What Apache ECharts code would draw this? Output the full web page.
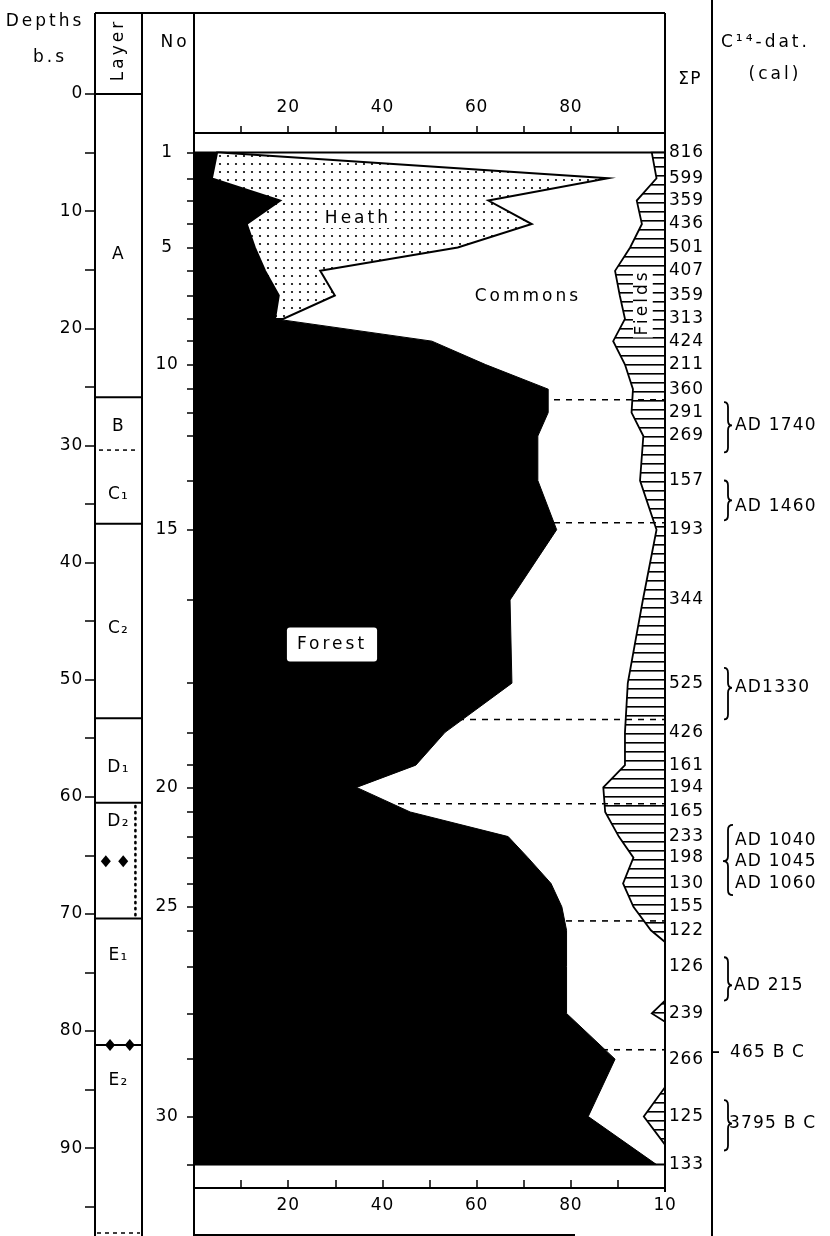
<!DOCTYPE html>
<html><head><meta charset="utf-8">
<script src="https://cdn.jsdelivr.net/npm/echarts@6/dist/echarts.min.js"></script>
<style>html,body{margin:0;padding:0;background:#fff}#c{width:830px;height:1236px}</style>
</head><body><div id="c"></div>
<script>
// ---------- DATA ----------
// depth (cm below surface) of each pollen sample, samples 1..31
const sampleDepth = [5.0,7.2,9.1,11.1,13.1,15.1,17.2,19.2,21.1,23.1,25.2,27.2,29.2,33.0,37.2,43.2,50.3,54.5,57.3,59.2,61.3,63.4,65.2,67.4,69.4,71.4,74.5,78.5,82.4,87.3,91.4];
const sampleNo = [1,2,3,4,5,6,7,8,9,10,11,12,13,14,15,16,17,18,19,20,21,22,23,24,25,26,27,28,29,30,31];
const labelledSamples = [1,5,10,15,20,25,30];
// percentages
const forest = [4.9,3.8,18.3,11.2,12.9,15.1,18.0,17.2,50.5,61.9,75.2,75.2,73.0,73.0,77.0,67.1,67.5,53.3,47.1,34.5,45.9,66.7,70.9,75.8,78.1,79.1,79.1,79.1,89.4,83.7,98.2];
const heath  = [0.6,84.1,44.2,60.5,43.1,11.7,11.9,1.7,0,0,0,0,0,0,0,0,0,0,0,0,0,0,0,0,0,0,0,0,0,0,0];
const fieldsDepth = [5.0,7.2,9.1,11.1,13.1,15.1,17.2,19.2,21.1,23.1,25.2,27.2,29.2,33.0,37.2,43.2,50.3,54.5,57.3,59.2,61.3,63.4,65.2,67.4,69.4,71.4,72.4,74.5,77.4,78.5,79.2,82.4,84.8,87.3,89.7,91.4];
const fieldsVal   = [2.8,1.8,6.0,4.9,7.4,10.6,9.6,8.5,11.0,8.5,6.8,7.1,4.6,5.3,1.8,4.7,7.9,8.5,8.5,13.1,12.7,9.8,6.7,8.9,6.7,3.0,0,0,0,2.8,0,0,0,4.5,0,0];
const sumP = [816,599,359,436,501,407,359,313,424,211,360,291,269,157,193,344,525,426,161,194,165,233,198,130,155,122,126,239,266,125,133];
const dashDepth = [26.1,36.6,53.4,60.6,70.6,81.6];
// depth axis
const depthTicks = [0,5,10,15,20,25,30,35,40,45,50,55,60,65,70,75,80,85,90,95];
const depthLabels = [0,10,20,30,40,50,60,70,80,90];
const pctTicks = [10,20,30,40,50,60,70,80,90];
const pctLabels = [20,40,60,80];
const pctLabelsBottom = [20,40,60,80,100];
// layers
const layerBounds = [25.9,30.4,36.7,53.3,60.5,70.4,81.2];
const layerDashed = [false,true,false,false,false,false,false];
const layerNames = ['A','B','C₁','C₂','D₁','D₂','E₁','E₂'];
const layerLabelDepth = [13.7,28.4,34.2,45.6,57.5,62.1,73.6,84.2];
const diamondX = [0.23,0.6,0.32,0.74];
const diamondDepth = [65.5,65.5,81.2,81.2];
const dottedDepth = [60.8,70.2];
// annotations in the main panel
const annoText = ['Heath','Commons','Forest','Fields'];
const annoX = [34.8,70.9,29.3,95.3];
const annoDepth = [10.6,17.3,47.0,17.8];
// C14 dates
const c14Text = ['AD 1740','AD 1460','AD1330','AD 1040','AD 1045','AD 1060','AD 215','465 B C','3795 B C'];
const c14Depth = [28.3,35.2,50.7,63.7,65.5,67.4,76.1,81.8,87.9];
const c14X = [23,23,23,23,23,23,22,18,17];
const braceTop = [26.3,33.0,49.0,62.4,73.7,85.9];
const braceBottom = [30.6,36.4,53.4,68.4,77.4,90.2];
const braceTip = [28.3,34.7,50.7,65.5,76.1,87.9];
const braceDir = ['}','}','}','{','}','}'];
const c14TickDepth = [81.8];

// ---------- lettering: wide-spaced stencil look ----------
(function(){
  const P = window.CanvasRenderingContext2D && CanvasRenderingContext2D.prototype;
  if (!P || !('letterSpacing' in P)) return;
  const sp = t => /[a-z]/.test(t) ? '3px' : (/[A-Z]/.test(t) ? '1.2px' : '0.8px');
  const f = P.fillText, m = P.measureText;
  P.fillText = function(t){ this.letterSpacing = sp(String(t)); return f.apply(this, arguments); };
  P.measureText = function(t){ this.letterSpacing = sp(String(t)); return m.apply(this, arguments); };
})();

// ---------- CHART ----------
const FONT = 'DejaVu Sans';
const BLACK = '#000';
const Y_MAX = 97.5;
const FS = 17;

function makeDots(){const c=document.createElement('canvas');c.width=8;c.height=8;const g=c.getContext('2d');g.fillStyle='#fff';g.fillRect(0,0,8,8);g.fillStyle='#000';g.beginPath();g.arc(4,4,1.1,0,Math.PI*2);g.fill();return c;}
function makeHatch(){const c=document.createElement('canvas');c.width=4;c.height=9;const g=c.getContext('2d');g.fillStyle='#fff';g.fillRect(0,0,4,9);g.fillStyle='#000';g.fillRect(0,4,4,1.6);return c;}
const dots = makeDots(), hatch = makeHatch();

const chart = echarts.init(document.getElementById('c'), null, {renderer:'canvas', width:830, height:1236});

const yBase = {type:'value', min:0, max:Y_MAX, inverse:true, splitLine:{show:false}, axisLine:{show:false}};
const lbl = {color:BLACK, fontFamily:FONT, fontSize:FS};
const slbl = Object.assign({opacity:1}, lbl);
const clear = {color:'rgba(0,0,0,0)', opacity:1};
const nLast = sampleDepth.length-1;

function txt(x,y,text,align,extra){return Object.assign({type:'text',x:x,y:y,z:50,style:{text:text,fill:BLACK,font:FS+'px "'+FONT+'"',align:align||'center',textAlign:align||'center',verticalAlign:'middle',textVerticalAlign:'middle'}},extra||{});}
function ln(x1,y1,x2,y2,w,dash){return {type:'line',z:40,shape:{x1:x1,y1:y1,x2:x2,y2:y2},style:{stroke:BLACK,lineWidth:w||2,lineDash:dash||null}};}

const option = {
  animation:false,
  backgroundColor:'#fff',
  textStyle:{fontFamily:FONT,color:BLACK},
  grid:[
    {left:95, width:47, top:94, bottom:0, outerBoundsMode:'none'},
    {left:194, width:471, top:94, bottom:0, outerBoundsMode:'none'},
    {left:712, width:118, top:94, bottom:0, outerBoundsMode:'none'}
  ],
  xAxis:[
    {type:'value', gridIndex:0, min:0, max:1, show:false},
    {type:'value', gridIndex:1, position:'top', offset:-39, min:0, max:100,
      axisLine:{show:true, onZero:false, lineStyle:{color:BLACK,width:2}},
      axisTick:{show:true, customValues:pctTicks, length:7, lineStyle:{color:BLACK,width:1.5}},
      axisLabel:Object.assign({customValues:pctLabels, margin:17}, lbl), splitLine:{show:false}},
    {type:'value', gridIndex:1, position:'bottom', offset:-48, min:0, max:100,
      axisLine:{show:true, onZero:false, lineStyle:{color:BLACK,width:2}},
      axisTick:{show:true, inside:true, customValues:pctTicks, length:8, lineStyle:{color:BLACK,width:1.5}},
      axisLabel:Object.assign({customValues:pctLabelsBottom, margin:9, formatter:v=>v===100?'10':String(v)}, lbl), splitLine:{show:false}},
    {type:'value', gridIndex:2, min:0, max:118, show:false}
  ],
  yAxis:[
    Object.assign({}, yBase, {gridIndex:0, position:'left',
      axisTick:{show:true, customValues:depthTicks, length:10, lineStyle:{color:BLACK,width:1.5}},
      axisLabel:Object.assign({show:true, customValues:depthLabels, margin:12}, lbl)}),
    Object.assign({}, yBase, {gridIndex:1, position:'left',
      axisTick:{show:true, customValues:sampleDepth, length:7, lineStyle:{color:BLACK,width:1.5}},
      axisLabel:Object.assign({show:true, customValues:labelledSamples.map(n=>sampleDepth[n-1]), margin:27, align:'center',
        formatter:v=>{const i=sampleDepth.findIndex(d=>Math.abs(d-v)<1e-6);return i>=0?String(sampleNo[i]):'';}}, lbl)}),
    Object.assign({}, yBase, {gridIndex:2, show:false})
  ],
  series:[
    {type:'custom', name:'Commons', xAxisIndex:1, yAxisIndex:1, z:1, data:[[0,0]],
      renderItem:(p,api)=>({type:'polygon', shape:{points:[api.coord([0,sampleDepth[0]]),api.coord([100,sampleDepth[0]]),api.coord([100,sampleDepth[nLast]]),api.coord([0,sampleDepth[nLast]])]},
        style:{fill:'#fff',stroke:BLACK,lineWidth:2}})},
    {type:'custom', name:'Forest', xAxisIndex:1, yAxisIndex:1, z:2, data:[[0,0]],
      renderItem:(p,api)=>{const pts=[api.coord([0,sampleDepth[0]])];forest.forEach((v,i)=>pts.push(api.coord([v,sampleDepth[i]])));pts.push(api.coord([0,sampleDepth[nLast]]));
        return {type:'polygon',shape:{points:pts},style:{fill:'#000',stroke:'#000',lineWidth:1}};}},
    {type:'custom', name:'Heath', xAxisIndex:1, yAxisIndex:1, z:3, data:[[0,0]],
      renderItem:(p,api)=>{let last=0;heath.forEach((v,i)=>{if(v>0)last=i;});const pts=[];
        for(let i=0;i<=last;i++)pts.push(api.coord([forest[i]+heath[i],sampleDepth[i]]));
        for(let i=last;i>=0;i--)pts.push(api.coord([forest[i],sampleDepth[i]]));
        return {type:'polygon',shape:{points:pts},style:{fill:{image:dots,repeat:'repeat'},stroke:BLACK,lineWidth:2}};}},
    {type:'custom', name:'Fields', xAxisIndex:1, yAxisIndex:1, z:3, data:[[0,0]],
      renderItem:(p,api)=>{const pts=fieldsDepth.map((d,i)=>api.coord([100-fieldsVal[i],d]));
        pts.push(api.coord([100,fieldsDepth[fieldsDepth.length-1]]));pts.push(api.coord([100,fieldsDepth[0]]));
        return {type:'polygon',shape:{points:pts},style:{fill:{image:hatch,repeat:'repeat'},stroke:BLACK,lineWidth:1.8}};}},
    {type:'custom', name:'boundaries', xAxisIndex:1, yAxisIndex:1, z:4, data:[[0,0]],
      renderItem:(p,api)=>({type:'group',children:dashDepth.map(d=>{const a=api.coord([0,d]),b=api.coord([100,d]);
        return {type:'line',shape:{x1:a[0],y1:a[1],x2:b[0],y2:b[1]},style:{stroke:BLACK,lineWidth:1.6,lineDash:[6,6]}};})})},
    {type:'scatter', name:'ΣP', xAxisIndex:1, yAxisIndex:1, z:5, symbolSize:0, clip:false,
      itemStyle:clear,
      data:sampleDepth.map((d,i)=>[100,d,sumP[i]]),
      label:Object.assign({show:true, position:'right', distance:4, formatter:p=>String(p.value[2])}, slbl)},
    {type:'scatter', name:'labels', xAxisIndex:1, yAxisIndex:1, z:6, symbolSize:0, clip:false,
      itemStyle:clear,
      label:Object.assign({show:true, position:'inside', formatter:'{b}'}, slbl),
      data:annoText.map((t,i)=>{const it={name:t,value:[annoX[i],annoDepth[i]]};
        if(t==='Forest')it.label={backgroundColor:'#fff',borderRadius:3,padding:[8,10]};
        if(t==='Heath')it.label={backgroundColor:'#fff',padding:[1,3]};
        if(t==='Fields')it.label={rotate:90,backgroundColor:'#fff',padding:[1,2]};
        return it;})},
    {type:'custom', name:'layers', xAxisIndex:0, yAxisIndex:0, z:4, data:[[0,0]],
      renderItem:(p,api)=>({type:'group',children:layerBounds.map((d,i)=>{const a=api.coord([0,d]),b=api.coord([1,d]);
        return {type:'line',shape:{x1:a[0]+(layerDashed[i]?4:0),y1:a[1],x2:b[0]-(layerDashed[i]?4:0),y2:b[1]},style:{stroke:BLACK,lineWidth:layerDashed[i]?1.5:2,lineDash:layerDashed[i]?[4,4]:null}};})})},
    {type:'scatter', name:'layerNames', xAxisIndex:0, yAxisIndex:0, z:5, symbolSize:0,
      itemStyle:clear,
      label:Object.assign({show:true, position:'inside', formatter:'{b}'}, slbl),
      data:layerNames.map((n,i)=>({name:n,value:[0.5,layerLabelDepth[i]]}))},
    {type:'scatter', name:'markers', xAxisIndex:0, yAxisIndex:0, z:5, symbol:'diamond', symbolSize:[10,12],
      itemStyle:{color:'#000', opacity:1}, data:diamondX.map((x,i)=>[x,diamondDepth[i]])},
    {type:'line', name:'dotted', xAxisIndex:0, yAxisIndex:0, z:5, symbol:'none',
      lineStyle:{color:'#000',width:2.6,type:[1,5],cap:'round',opacity:1}, data:dottedDepth.map(d=>[0.86,d])},
    {type:'custom', name:'C14', xAxisIndex:3, yAxisIndex:2, z:5, data:[[0,0]],
      renderItem:(p,api)=>{const ch=[];
        braceTop.forEach((t,i)=>{const right=braceDir[i]==='}';const xe=right?12:21, xt=right?20:11;
          const pT=api.coord([xe,t]),pB=api.coord([xe,braceBottom[i]]),pM=api.coord([xt,braceTip[i]]);
          const xm=(pT[0]+pM[0])/2,r=5;
          const d='M'+pT[0]+' '+pT[1]+' Q'+xm+' '+pT[1]+' '+xm+' '+(pT[1]+r)+' L'+xm+' '+(pM[1]-r)+' Q'+xm+' '+pM[1]+' '+pM[0]+' '+pM[1]+
            ' Q'+xm+' '+pM[1]+' '+xm+' '+(pM[1]+r)+' L'+xm+' '+(pB[1]-r)+' Q'+xm+' '+pB[1]+' '+pB[0]+' '+pB[1];
          ch.push({type:'path',shape:{pathData:d},style:{fill:'none',stroke:BLACK,lineWidth:1.8}});});
        c14TickDepth.forEach(d=>{const a=api.coord([0,d]),b=api.coord([7,d]);ch.push({type:'line',shape:{x1:a[0],y1:a[1],x2:b[0],y2:b[1]},style:{stroke:BLACK,lineWidth:1.8}});});
        c14Text.forEach((t,i)=>{const q=api.coord([c14X[i],c14Depth[i]]);
          ch.push({type:'text',x:q[0],y:q[1],style:{text:t,fill:BLACK,font:FS+'px "'+FONT+'"',align:'left',textAlign:'left',verticalAlign:'middle',textVerticalAlign:'middle'}});});
        return {type:'group',children:ch};}}
  ],
  graphic:[
    ln(95,13,665,13,2), ln(95,13,95,1236,2), ln(142,13,142,1236,2), ln(95,94,142,94,2),
    ln(194,13,194,1236,2), ln(665,13,665,1192,2), ln(712,0,712,1236,2),
    ln(194,1235,575,1235,2), ln(97,1233,140,1233,1.5,[4,4]),
    txt(45,22,'Depths'), txt(50,58,'b.s'), txt(119,50,'Layer','center',{rotation:Math.PI/2}),
    txt(175,43,'No'), txt(690,80,'ΣP'), txt(721,43,'C¹⁴-dat.','left'), txt(775,75,'(cal)')
  ]
};
chart.setOption(option);
</script></body></html>
